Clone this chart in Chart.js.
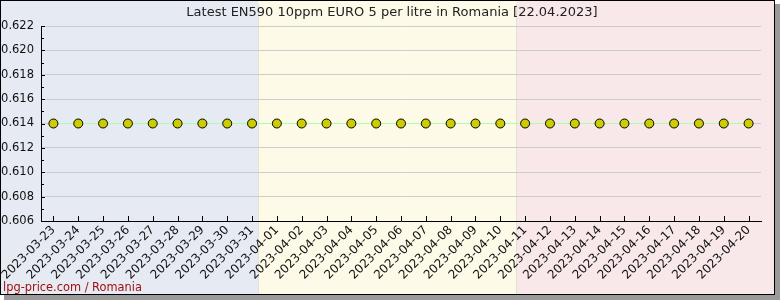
<!DOCTYPE html>
<html>
<head>
<meta charset="utf-8">
<script src="https://cdn.jsdelivr.net/npm/chart.js@4"></script>
<style>
  html, body { margin: 0; padding: 0; background: #ffffff; }
  #wrap { width: 780px; height: 300px; }
</style>
</head>
<body>
<div id="wrap"><canvas id="myChart" width="780" height="300"></canvas></div>
<script>
// data
const dates = [
  '2023-03-23', '2023-03-24', '2023-03-25', '2023-03-26', '2023-03-27', '2023-03-28',
  '2023-03-29', '2023-03-30', '2023-03-31', '2023-04-01', '2023-04-02', '2023-04-03',
  '2023-04-04', '2023-04-05', '2023-04-06', '2023-04-07', '2023-04-08', '2023-04-09',
  '2023-04-10', '2023-04-11', '2023-04-12', '2023-04-13', '2023-04-14', '2023-04-15',
  '2023-04-16', '2023-04-17', '2023-04-18', '2023-04-19', '2023-04-20'
];
const prices = [
  0.614, 0.614, 0.614, 0.614, 0.614, 0.614, 0.614, 0.614, 0.614, 0.614,
  0.614, 0.614, 0.614, 0.614, 0.614, 0.614, 0.614, 0.614, 0.614, 0.614,
  0.614, 0.614, 0.614, 0.614, 0.614, 0.614, 0.614, 0.614, 0.614
];
const yMin = 0.606;
const yMax = 0.622;
const yStep = 0.002;
const yMinorStep = 0.001;

const titleText = 'Latest EN590 10ppm EURO 5 per litre in Romania [22.04.2023]';
const footerText = 'lpg-price.com / Romania';

const fontFamily = '"DejaVu Sans", Verdana, sans-serif';

// background bands, frame, title, footer, inside tick marks
const decoPlugin = {
  id: 'deco',
  beforeDraw(chart) {
    const ctx = chart.ctx;
    ctx.save();
    // shadow
    ctx.fillStyle = '#9a9a9a';
    ctx.fillRect(4, 4, 776, 296);
    // flag bands
    const w = 775 / 3;
    ctx.fillStyle = '#e6eaf2';
    ctx.fillRect(0, 0, w, 295);
    ctx.fillStyle = '#fdfae8';
    ctx.fillRect(w, 0, w, 295);
    ctx.fillStyle = '#f8e8ea';
    ctx.fillRect(2 * w, 0, 775 - 2 * w, 295);
    // frame
    ctx.strokeStyle = '#000000';
    ctx.lineWidth = 1;
    ctx.strokeRect(0.5, 0.5, 774, 294);
    // title
    ctx.fillStyle = '#222222';
    ctx.font = '13px ' + fontFamily;
    ctx.textAlign = 'center';
    ctx.textBaseline = 'middle';
    ctx.fillText(titleText, 392, 13);
    // footer
    ctx.fillStyle = '#a01010';
    ctx.font = '11.4px ' + fontFamily;
    ctx.textAlign = 'left';
    ctx.fillText(footerText, 3, 288);
    ctx.restore();
  },
  afterDraw(chart) {
    const ctx = chart.ctx;
    const x = chart.scales.x;
    const y = chart.scales.y;
    const area = chart.chartArea;
    ctx.save();
    ctx.strokeStyle = '#000000';
    ctx.lineWidth = 1;
    ctx.beginPath();
    // y ticks, major and minor, pointing into the plot
    for (let v = yMin; v <= yMax + 1e-9; v += yMinorStep) {
      const py = Math.round(y.getPixelForValue(v)) + 0.5;
      const major = Math.abs(Math.round((v - yMin) / yStep) * yStep - (v - yMin)) < 1e-9;
      ctx.moveTo(area.left, py);
      ctx.lineTo(area.left + (major ? 4 : 3), py);
    }
    // x ticks pointing up
    dates.forEach((d, i) => {
      const px = Math.round(x.getPixelForTick(i)) + 0.5;
      ctx.moveTo(px, area.bottom);
      ctx.lineTo(px, area.bottom - 5);
    });
    ctx.stroke();
    ctx.restore();
  }
};

const ctx = document.getElementById('myChart').getContext('2d');
const chart = new Chart(ctx, {
  type: 'line',
  data: {
    labels: dates,
    datasets: [{
      label: 'Price',
      data: prices,
      borderColor: '#aaffaa',
      borderWidth: 1,
      pointBackgroundColor: '#cccc00',
      pointBorderColor: '#000000',
      pointBorderWidth: 1,
      pointRadius: 4.5,
      tension: 0
    }]
  },
  options: {
    responsive: false,
    animation: false,
    devicePixelRatio: 1,
    layout: { padding: { left: 0, top: 26, right: 19, bottom: 0 } },
    plugins: {
      legend: { display: false },
      tooltip: { enabled: false },
      title: { display: false }
    },
    scales: {
      x: {
        offset: true,
        grid: { display: false, drawTicks: false },
        border: { display: true, color: '#000000', width: 1 },
        ticks: {
          color: '#111111',
          font: { family: fontFamily, size: 12 },
          maxRotation: 45,
          minRotation: 45,
          autoSkip: false,
          padding: 2
        },
        afterFit: (s) => { s.height = 79; }
      },
      y: {
        min: yMin,
        max: yMax,
        grid: { color: '#cccccc', drawTicks: false },
        border: { display: true, color: '#000000', width: 1 },
        ticks: {
          stepSize: yStep,
          color: '#111111',
          font: { family: fontFamily, size: 11.5 },
          padding: 7,
          callback: (v) => v.toFixed(3)
        },
        afterFit: (s) => { s.width = 41; }
      }
    }
  },
  plugins: [decoPlugin]
});
</script>
</body>
</html>
